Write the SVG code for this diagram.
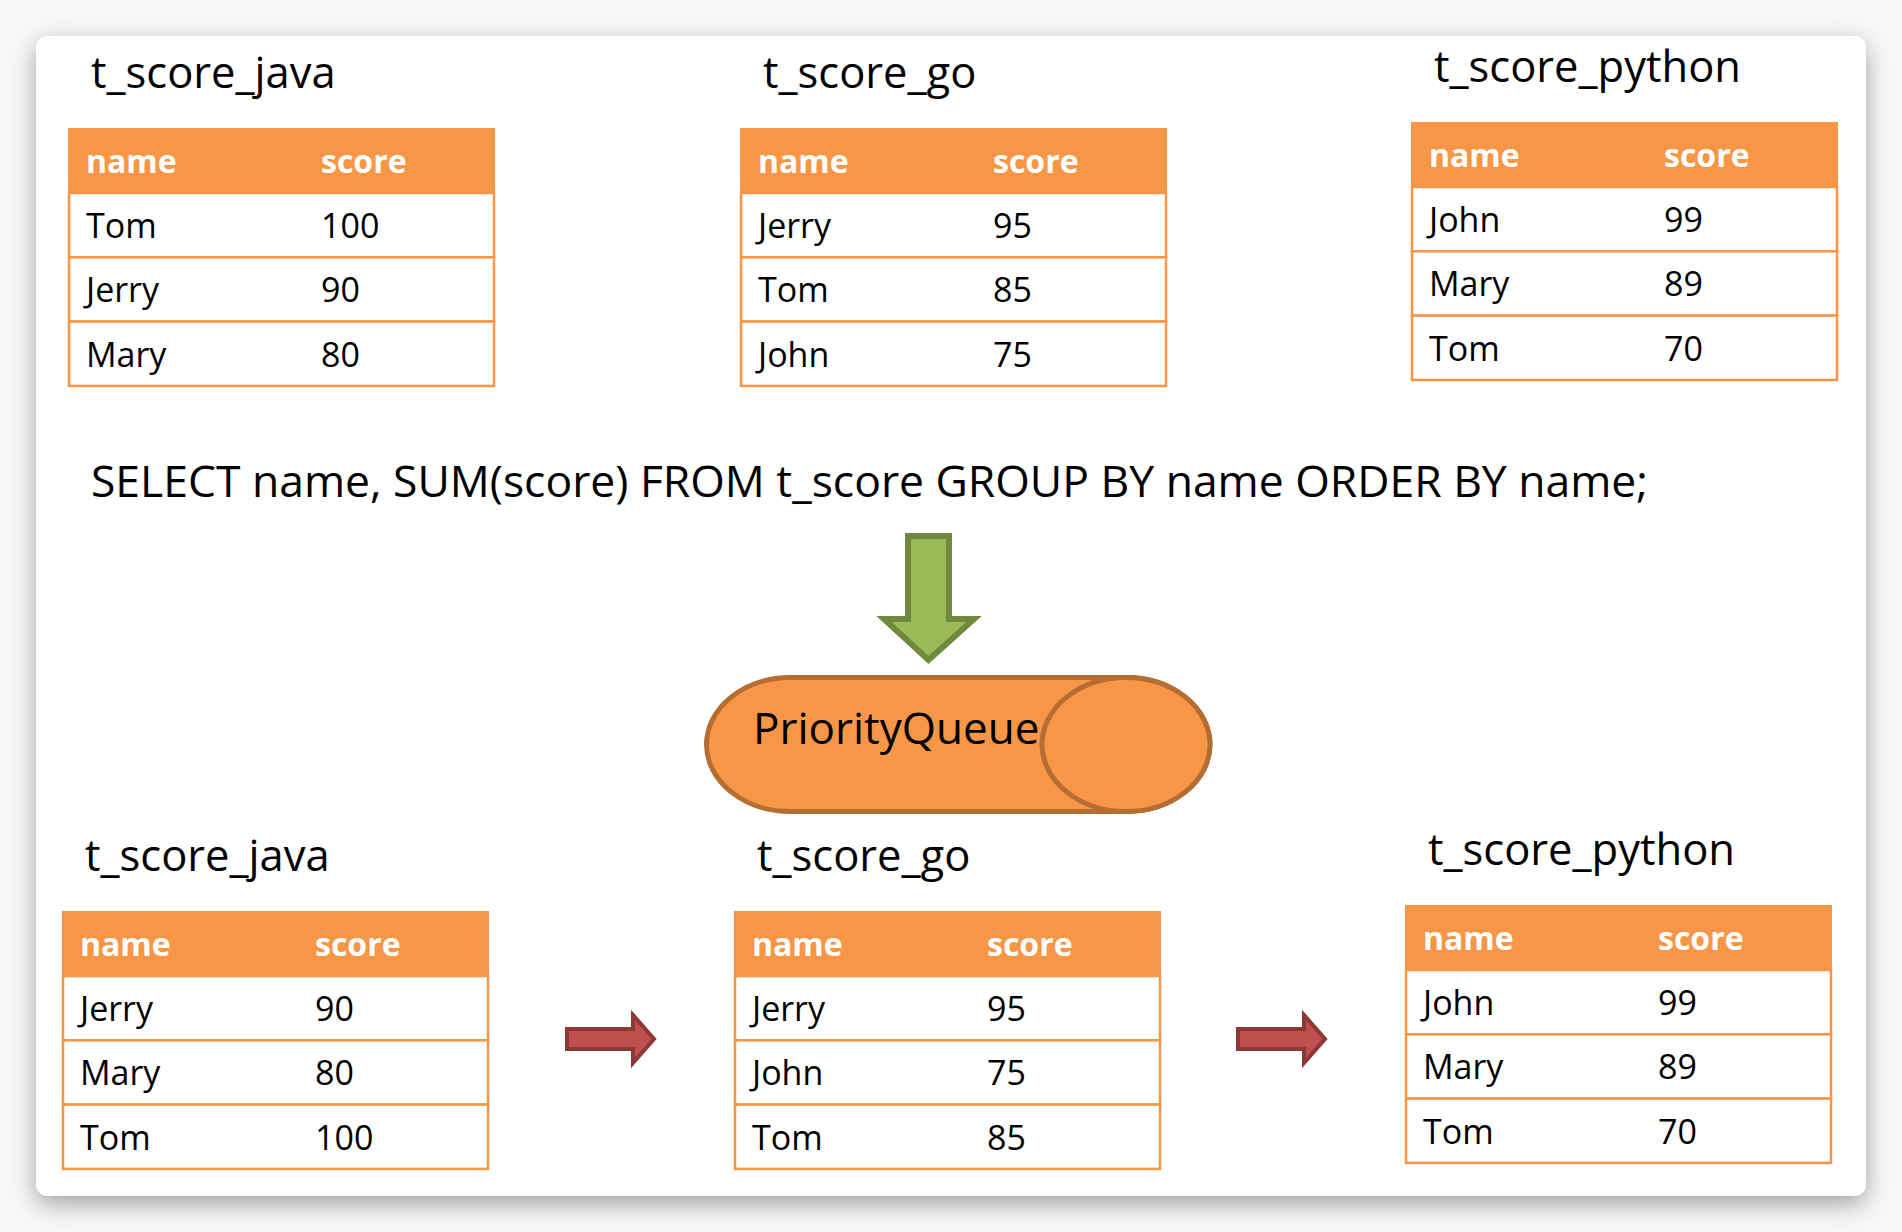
<svg xmlns="http://www.w3.org/2000/svg" width="1902" height="1232" viewBox="0 0 1902 1232">
  <defs>
    <filter id="shadow" x="-5%" y="-5%" width="110%" height="112%">
      <feGaussianBlur in="SourceAlpha" stdDeviation="12"/>
      <feOffset dx="0" dy="8" result="b"/>
      <feComponentTransfer><feFuncA type="linear" slope="0.35"/></feComponentTransfer>
      <feMerge><feMergeNode/><feMergeNode in="SourceGraphic"/></feMerge>
    </filter>
    <style>
      text { font-family: "Open Sans", "Noto Sans", "DejaVu Sans", sans-serif; fill: #000; }
      .title { font-size: 43.5px; }
      .hdr { font-size: 32px; font-weight: bold; fill: #fff; }
      .cell { font-size: 34px; }
      .sql { font-size: 44.5px; }
      .pq { font-size: 44px; }
      .hfill { fill: #F79646; stroke: #F79646; stroke-width: 2; }
      .row { fill: #fff; stroke: #F79646; stroke-width: 2.5; }
      .green { fill: #9BBB59; stroke: #71893F; stroke-width: 6; stroke-linejoin: miter; }
      .red { fill: #C0504D; stroke: #8C3836; stroke-width: 4; stroke-linejoin: miter; }
      .cyl { fill: #F79646; stroke: #B66D31; stroke-width: 5; }
    </style>
  </defs>

  <rect x="0" y="0" width="1902" height="1232" fill="#f7f7f7"/>
  <rect x="36" y="36" width="1830" height="1160" rx="12" ry="12" fill="#fff" filter="url(#shadow)"/>

  <!-- Top: t_score_java -->
  <g id="top-java">
    <text class="title" x="91" y="88">t_score_java</text>
    <rect class="hfill" x="69" y="129" width="425" height="64"/>
    <rect class="row" x="69" y="193" width="425" height="64.3"/>
    <rect class="row" x="69" y="257.3" width="425" height="64.3"/>
    <rect class="row" x="69" y="321.6" width="425" height="64.3"/>
    <text class="hdr" x="86" y="173">name</text>
    <text class="hdr" x="321" y="173">score</text>
    <text class="cell" x="86" y="238">Tom</text><text class="cell" x="321" y="238">100</text>
    <text class="cell" x="86" y="302">Jerry</text><text class="cell" x="321" y="302">90</text>
    <text class="cell" x="86" y="367">Mary</text><text class="cell" x="321" y="367">80</text>
  </g>

  <!-- Top: t_score_go -->
  <g id="top-go">
    <text class="title" x="763" y="88">t_score_go</text>
    <rect class="hfill" x="741" y="129" width="425" height="64"/>
    <rect class="row" x="741" y="193" width="425" height="64.3"/>
    <rect class="row" x="741" y="257.3" width="425" height="64.3"/>
    <rect class="row" x="741" y="321.6" width="425" height="64.3"/>
    <text class="hdr" x="758" y="173">name</text>
    <text class="hdr" x="993" y="173">score</text>
    <text class="cell" x="758" y="238">Jerry</text><text class="cell" x="993" y="238">95</text>
    <text class="cell" x="758" y="302">Tom</text><text class="cell" x="993" y="302">85</text>
    <text class="cell" x="758" y="367">John</text><text class="cell" x="993" y="367">75</text>
  </g>

  <!-- Top: t_score_python -->
  <g id="top-python">
    <text class="title" x="1434" y="82">t_score_python</text>
    <rect class="hfill" x="1412" y="123" width="425" height="64"/>
    <rect class="row" x="1412" y="187" width="425" height="64.3"/>
    <rect class="row" x="1412" y="251.3" width="425" height="64.3"/>
    <rect class="row" x="1412" y="315.6" width="425" height="64.3"/>
    <text class="hdr" x="1429" y="167">name</text>
    <text class="hdr" x="1664" y="167">score</text>
    <text class="cell" x="1429" y="232">John</text><text class="cell" x="1664" y="232">99</text>
    <text class="cell" x="1429" y="296">Mary</text><text class="cell" x="1664" y="296">89</text>
    <text class="cell" x="1429" y="361">Tom</text><text class="cell" x="1664" y="361">70</text>
  </g>

  <!-- SQL -->
  <g id="sql">
    <text class="sql" x="91" y="497" textLength="1557" lengthAdjust="spacingAndGlyphs">SELECT name, SUM(score) FROM t_score GROUP BY name ORDER BY name;</text>
  </g>

  <!-- PriorityQueue -->
  <g id="priority-queue">
    <path class="cyl" d="M790.5,677.5 L1126,677.5 A84,67 0 0 1 1126,811.5 L790.5,811.5 A84,67 0 0 1 790.5,677.5 Z"/>
    <ellipse class="cyl" cx="1126" cy="744.5" rx="84" ry="67"/>
    <text class="pq" x="753" y="744">PriorityQueue</text>
  </g>

  <!-- Bottom: t_score_java -->
  <g id="bottom-java">
    <text class="title" x="85" y="871">t_score_java</text>
    <rect class="hfill" x="63" y="912" width="425" height="64"/>
    <rect class="row" x="63" y="976" width="425" height="64.3"/>
    <rect class="row" x="63" y="1040.3" width="425" height="64.3"/>
    <rect class="row" x="63" y="1104.6" width="425" height="64.3"/>
    <text class="hdr" x="80" y="956">name</text>
    <text class="hdr" x="315" y="956">score</text>
    <text class="cell" x="80" y="1021">Jerry</text><text class="cell" x="315" y="1021">90</text>
    <text class="cell" x="80" y="1085">Mary</text><text class="cell" x="315" y="1085">80</text>
    <text class="cell" x="80" y="1150">Tom</text><text class="cell" x="315" y="1150">100</text>
  </g>

  <!-- Bottom: t_score_go -->
  <g id="bottom-go">
    <text class="title" x="757" y="871">t_score_go</text>
    <rect class="hfill" x="735" y="912" width="425" height="64"/>
    <rect class="row" x="735" y="976" width="425" height="64.3"/>
    <rect class="row" x="735" y="1040.3" width="425" height="64.3"/>
    <rect class="row" x="735" y="1104.6" width="425" height="64.3"/>
    <text class="hdr" x="752" y="956">name</text>
    <text class="hdr" x="987" y="956">score</text>
    <text class="cell" x="752" y="1021">Jerry</text><text class="cell" x="987" y="1021">95</text>
    <text class="cell" x="752" y="1085">John</text><text class="cell" x="987" y="1085">75</text>
    <text class="cell" x="752" y="1150">Tom</text><text class="cell" x="987" y="1150">85</text>
  </g>

  <!-- Bottom: t_score_python -->
  <g id="bottom-python">
    <text class="title" x="1428" y="865">t_score_python</text>
    <rect class="hfill" x="1406" y="906" width="425" height="64"/>
    <rect class="row" x="1406" y="970" width="425" height="64.3"/>
    <rect class="row" x="1406" y="1034.3" width="425" height="64.3"/>
    <rect class="row" x="1406" y="1098.6" width="425" height="64.3"/>
    <text class="hdr" x="1423" y="950">name</text>
    <text class="hdr" x="1658" y="950">score</text>
    <text class="cell" x="1423" y="1015">John</text><text class="cell" x="1658" y="1015">99</text>
    <text class="cell" x="1423" y="1079">Mary</text><text class="cell" x="1658" y="1079">89</text>
    <text class="cell" x="1423" y="1144">Tom</text><text class="cell" x="1658" y="1144">70</text>
  </g>

  <!-- Connectors -->
  <g id="connectors">
    <path class="green" d="M908,536 L949,536 L949,619 L974,619 L928.5,660 L884,619 L908,619 Z"/>
    <path class="red" d="M567,1029 L633,1029 L633,1015 L654,1039 L633,1063 L633,1049 L567,1049 Z"/>
    <path class="red" d="M1238,1029 L1304,1029 L1304,1015 L1325,1039 L1304,1063 L1304,1049 L1238,1049 Z"/>
  </g>
</svg>
